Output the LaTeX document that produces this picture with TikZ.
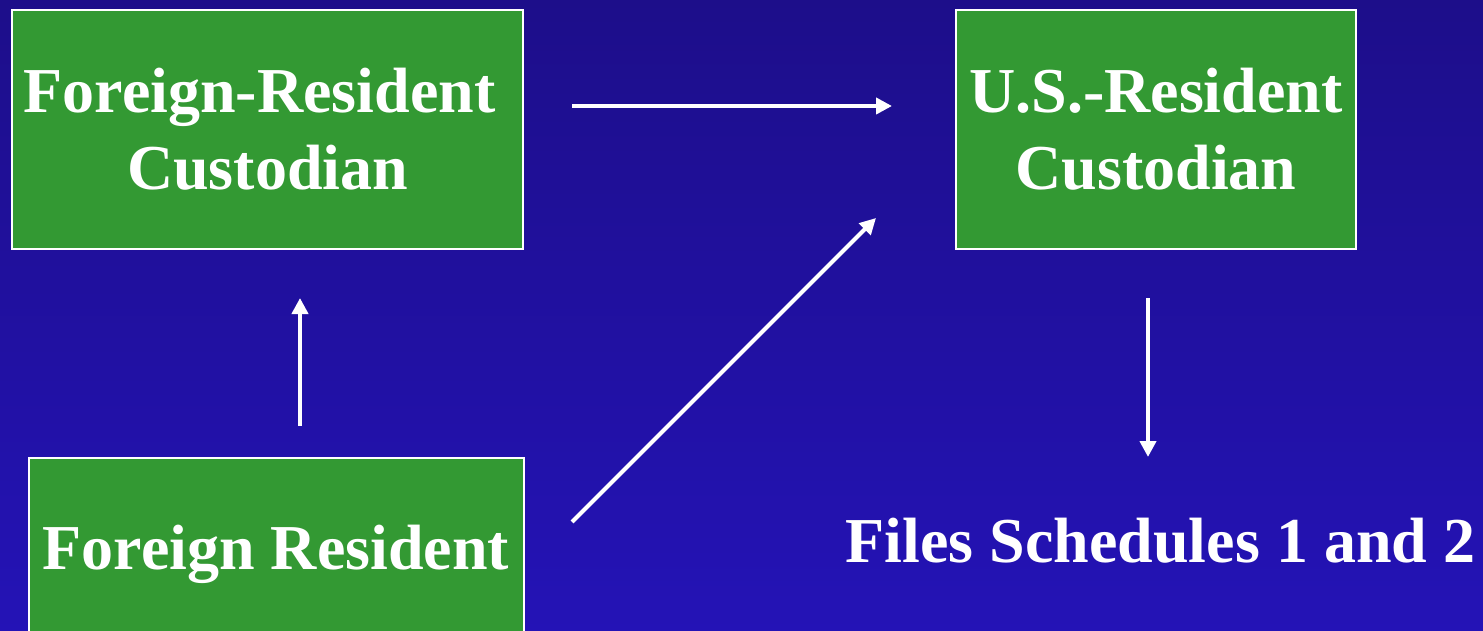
\documentclass[tikz,border=0pt]{standalone}
\usepackage{fontspec}
\setmainfont{Liberation Serif}
\usetikzlibrary{arrows.meta}
\definecolor{bgtop}{HTML}{1D0E8A}
\definecolor{bgbot}{HTML}{2413B6}
\definecolor{boxgreen}{HTML}{339933}
\tikzset{
  box/.style={draw=white, line width=1pt, fill=boxgreen, text=white,
    font=\fontsize{32}{38.5}\selectfont\bfseries, align=center, inner sep=0pt},
  lbl/.style={text=white, font=\fontsize{32}{38.5}\selectfont\bfseries, inner sep=0pt},
  arr/.style={draw=white, line width=2pt, -{Triangle[length=8pt,width=8pt]}}
}
\begin{document}
\begin{tikzpicture}[x=0.5pt,y=-0.5pt]
\useasboundingbox (0,0) rectangle (1483,631);
\shade[top color=bgtop, bottom color=bgbot] (0,0) rectangle (1483,631);
\begin{scope}
\clip (0,0) rectangle (1483,631);
\node[box, minimum width=255.5pt, minimum height=119.5pt] (frc) at (267.5,129.5) {Foreign-Resident\hspace*{0.25em}\\Custodian};
\node[box, minimum width=200pt, minimum height=119.5pt] (usc) at (1156,129.5) {U.S.-Resident\\Custodian};
\node[box, minimum width=247.5pt, minimum height=96pt, text height=22pt, text depth=7pt] (fr) at (276,554) {Foreign Resident};
\end{scope}
\node[lbl, anchor=base] (fs) at (1160.5,562) {Files Schedules 1 and 2};
\coordinate (a1s) at (572,106);
\coordinate (a1e) at (892,106);
\coordinate (a2s) at (300,426);
\coordinate (a2e) at (300,298);
\coordinate (a3s) at (572,522);
\coordinate (a3e) at (876,218);
\coordinate (a4s) at (1148,298);
\coordinate (a4e) at (1148,457);
\draw[arr] (a1s) -- (a1e);
\draw[arr] (a2s) -- (a2e);
\draw[arr] (a3s) -- (a3e);
\draw[arr] (a4s) -- (a4e);
\end{tikzpicture}
\end{document}
